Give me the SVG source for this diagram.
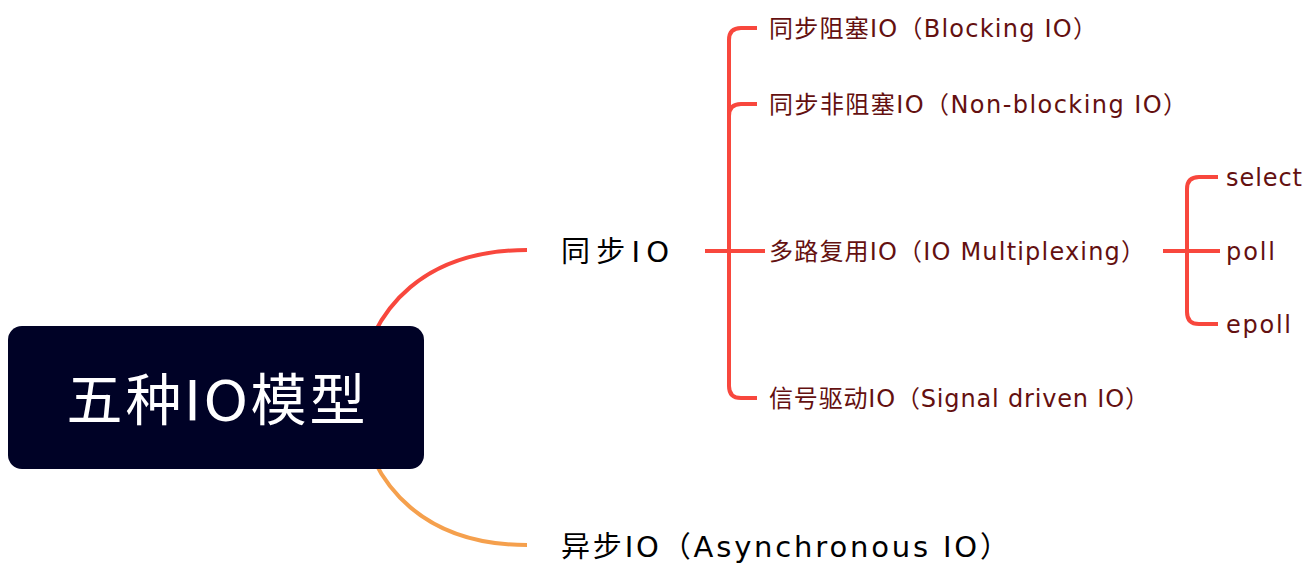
<svg xmlns="http://www.w3.org/2000/svg" width="1308" height="574" viewBox="0 0 1308 574">
<style>
.ln{fill:none;stroke-width:4;stroke-linecap:butt}
.red{stroke:#F8473D}
.org{stroke:#F5A04D}
.t1{font-family:"DejaVu Sans","Noto Sans CJK SC",sans-serif;font-size:29px;fill:#000}
.t2{font-family:"DejaVu Sans","Noto Sans CJK SC",sans-serif;font-size:24px;fill:#641010}
.root{font-family:"DejaVu Sans","Noto Sans CJK SC",sans-serif;font-size:56px;fill:#fff;text-anchor:middle}
</style>
<g id="connectors">
<path class="ln red" d="M356 397 C368 300 432 250 527 250"/>
<path class="ln org" d="M356 397 C368 494 432 545 527 545"/>
<path class="ln red" d="M705 251 H765"/>
<path class="ln red" d="M757 28 H741 Q729 28 729 40 V386 Q729 398 741 398 H757"/>
<path class="ln red" d="M757 104 H741 Q729 104 729 116"/>
<path class="ln red" d="M1163 251 H1220"/>
<path class="ln red" d="M1218 177 H1199 Q1187 177 1187 189 V312 Q1187 324 1199 324 H1218"/>
</g>
<g id="root">
<rect x="8" y="326" width="416" height="143" rx="14" fill="#000226"/>
<text class="root" x="216" y="420" textLength="299" lengthAdjust="spacing">五种IO模型</text>
</g>
<g id="sync"><text class="t1" x="561" y="262" textLength="108" lengthAdjust="spacing">同步IO</text></g>
<g id="async"><text class="t1" x="561" y="557" textLength="448" lengthAdjust="spacing">异步IO（Asynchronous IO）</text></g>
<g id="blocking"><text class="t2" x="769" y="37" textLength="328" lengthAdjust="spacing">同步阻塞IO（Blocking IO）</text></g>
<g id="nonblocking"><text class="t2" x="769" y="113" textLength="418" lengthAdjust="spacing">同步非阻塞IO（Non-blocking IO）</text></g>
<g id="multiplexing"><text class="t2" x="769" y="260" textLength="376" lengthAdjust="spacing">多路复用IO（IO Multiplexing）</text></g>
<g id="signal"><text class="t2" x="769" y="407" textLength="380" lengthAdjust="spacing">信号驱动IO（Signal driven IO）</text></g>
<g id="select"><text class="t2" x="1226" y="186" textLength="76" lengthAdjust="spacing">select</text></g>
<g id="poll"><text class="t2" x="1226" y="260" textLength="49" lengthAdjust="spacing">poll</text></g>
<g id="epoll"><text class="t2" x="1226" y="333" textLength="65" lengthAdjust="spacing">epoll</text></g>
</svg>
